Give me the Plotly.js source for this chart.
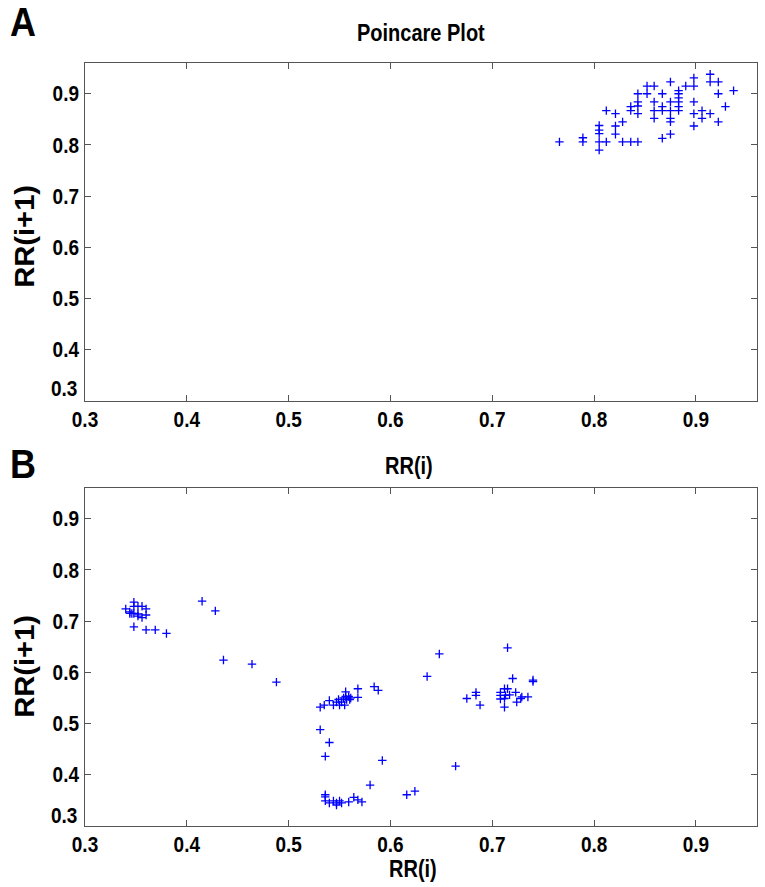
<!DOCTYPE html>
<html>
<head>
<meta charset="utf-8">
<script src="https://cdn.plot.ly/plotly-3.0.1.min.js"></script>
<style>html,body{margin:0;padding:0;background:#fff;}#chart{width:765px;height:887px;}</style>
</head>
<body>
<div id="chart"></div>
<script>
// Panel A: Poincare plot (RR(i), RR(i+1))
const rrA_i = [0.766,0.789,0.789,0.805,0.805,0.805,0.805,0.805,0.812,0.812,0.821,0.821,0.821,0.828,0.828,0.836,0.843,0.836,0.836,0.843,0.843,0.843,0.843,0.852,0.852,0.859,0.859,0.859,0.859,0.867,0.867,0.867,0.867,0.875,0.875,0.875,0.875,0.875,0.875,0.883,0.883,0.883,0.883,0.883,0.883,0.890,0.898,0.898,0.898,0.898,0.898,0.906,0.906,0.914,0.914,0.914,0.922,0.922,0.922,0.929,0.937];
const rrA_next = [0.806,0.814,0.806,0.838,0.829,0.822,0.806,0.790,0.867,0.806,0.861,0.837,0.821,0.845,0.806,0.806,0.806,0.875,0.867,0.900,0.884,0.876,0.861,0.915,0.900,0.915,0.884,0.867,0.852,0.900,0.875,0.867,0.813,0.923,0.884,0.867,0.852,0.845,0.821,0.906,0.900,0.892,0.884,0.875,0.867,0.915,0.931,0.915,0.884,0.861,0.837,0.867,0.852,0.938,0.923,0.861,0.923,0.900,0.845,0.875,0.906];

// Panel B
const rrB_i = [0.340,0.344,0.346,0.348,0.348,0.348,0.352,0.356,0.360,0.352,0.356,0.360,0.352,0.344,0.348,0.360,0.369,0.380,
  0.415,0.428,0.436,0.464,0.488,
  0.531,0.535,0.540,0.544,0.547,0.549,0.550,0.552,0.554,0.555,0.556,0.556,0.557,0.559,0.560,0.561,0.568,0.568,0.584,0.588,
  0.531,0.540,0.536,
  0.536,0.536,0.536,0.540,0.544,0.547,0.547,0.550,0.552,0.559,0.564,0.568,0.572,0.580,0.592,0.616,0.624,0.664,
  0.636,0.648,0.715,
  0.675,0.684,0.684,0.688,0.708,0.708,0.708,0.712,0.712,0.712,0.713,0.715,0.717,0.720,0.723,0.724,0.728,0.729,0.735,0.740,0.740];
const rrB_next = [0.724,0.715,0.715,0.737,0.729,0.715,0.729,0.729,0.724,0.710,0.707,0.712,0.714,0.718,0.689,0.683,0.683,0.676,
  0.739,0.720,0.624,0.616,0.581,
  0.532,0.536,0.545,0.536,0.542,0.547,0.536,0.542,0.550,0.536,0.562,0.553,0.547,0.553,0.547,0.550,0.568,0.551,0.572,0.565,
  0.488,0.463,0.436,
  0.361,0.357,0.349,0.345,0.349,0.345,0.341,0.349,0.345,0.347,0.356,0.351,0.347,0.380,0.428,0.361,0.368,0.417,
  0.592,0.636,0.648,
  0.549,0.561,0.555,0.536,0.561,0.555,0.548,0.568,0.549,0.532,0.555,0.568,0.556,0.588,0.561,0.542,0.549,0.552,0.552,0.585,0.582];

const tickVals = [0.3,0.4,0.5,0.6,0.7,0.8,0.9];
const yTickVals = [0.4,0.5,0.6,0.7,0.8,0.9];
const yTickText = ['0.4','0.5','0.6','0.7','0.8','0.9'];

const FONT = 'Liberation Sans, Arial, Helvetica, sans-serif';
const W = 765, H = 887;
const px = v => v / W;
const py = v => (H - v) / H;

const marker = {symbol:'cross-thin', size:6, color:'#0000ff', line:{color:'#0000ff', width:1.3}};

const traces = [
  {x: rrA_i, y: rrA_next, type:'scatter', mode:'markers', marker, xaxis:'x', yaxis:'y', hoverinfo:'x+y'},
  {x: rrB_i, y: rrB_next, type:'scatter', mode:'markers', marker, xaxis:'x2', yaxis:'y2', hoverinfo:'x+y'}
];

const tickFont = {family: FONT, size: 19, color:'#000', weight: 700};
function xax(anchor){
  return {domain:[px(85), px(757)], range:[0.3,0.96], anchor, tickvals:tickVals, ticktext:tickVals.map(v=>v.toFixed(1)),
    ticks:'inside', ticklen:6, tickwidth:1, tickcolor:'#555', showline:true, linecolor:'#555', linewidth:1.2,
    mirror:'ticks', showgrid:false, zeroline:false, tickfont:tickFont, ticklabelstandoff:1};
}
function yax(anchor, top, bottom){
  return {domain:[py(bottom), py(top)], range:[0.3,0.96], anchor, tickvals:yTickVals, ticktext:yTickText,
    ticks:'inside', ticklen:6, tickwidth:1, tickcolor:'#555', showline:true, linecolor:'#555', linewidth:1.2,
    mirror:'ticks', showgrid:false, zeroline:false, tickfont:tickFont, ticklabelstandoff:1};
}

const annFont = (s) => ({family: FONT, size: s, color:'#000', weight:700});
const annotations = [
  {text:'A', x:px(8), y:py(22), xref:'paper', yref:'paper', xanchor:'left', yanchor:'middle', showarrow:false, font:annFont(36)},
  {text:'B', x:px(8), y:py(464), xref:'paper', yref:'paper', xanchor:'left', yanchor:'middle', showarrow:false, font:annFont(36)},
  {text:'Poincare Plot', x:px(421), y:py(33), xref:'paper', yref:'paper', xanchor:'center', yanchor:'middle', showarrow:false, font:annFont(20)},
  {text:'RR(i)', x:px(409), y:py(466), xref:'paper', yref:'paper', xanchor:'center', yanchor:'middle', showarrow:false, font:annFont(20)},
  {text:'RR(i)', x:px(413), y:py(869), xref:'paper', yref:'paper', xanchor:'center', yanchor:'middle', showarrow:false, font:annFont(20)},
  {text:'RR(i+1)', x:px(25), y:py(237), xref:'paper', yref:'paper', xanchor:'center', yanchor:'middle', textangle:-90, showarrow:false, font:annFont(27)},
  {text:'RR(i+1)', x:px(25), y:py(667), xref:'paper', yref:'paper', xanchor:'center', yanchor:'middle', textangle:-90, showarrow:false, font:annFont(27)},
  {text:'0.3', x:px(79), y:py(388), xref:'paper', yref:'paper', xanchor:'right', yanchor:'middle', showarrow:false, font:tickFont},
  {text:'0.3', x:px(79), y:py(815), xref:'paper', yref:'paper', xanchor:'right', yanchor:'middle', showarrow:false, font:tickFont}
];

const layout = {
  width: W, height: H, margin:{l:0,r:0,t:0,b:0},
  paper_bgcolor:'#fff', plot_bgcolor:'#fff', showlegend:false,
  xaxis: xax('y'), yaxis: yax('x', 63, 401),
  xaxis2: xax('y2'), yaxis2: yax('x2', 488, 826),
  annotations
};

// The reference figure's lettering is slightly stretched vertically; mimic that on the drawn text.
function stretchText(gd){
  gd.querySelectorAll('svg text').forEach(t => {
    if (!t.textContent.trim()) return;
    let bb;
    try { bb = t.getBBox(); } catch(e) { return; }
    const cx = bb.x + bb.width / 2, cy = bb.y + bb.height / 2;
    const rotated = t.textContent.indexOf('RR(i+1)') >= 0;
    const s = rotated ? 'scale(1.08,1)' : 'scale(1,1.15)';
    const tr = t.getAttribute('transform') || '';
    t.setAttribute('transform', tr + ' translate(' + cx + ',' + cy + ') ' + s + ' translate(' + (-cx) + ',' + (-cy) + ')');
  });
}

Plotly.newPlot('chart', traces, layout, {staticPlot:true, displayModeBar:false}).then(stretchText);
</script>
</body>
</html>
